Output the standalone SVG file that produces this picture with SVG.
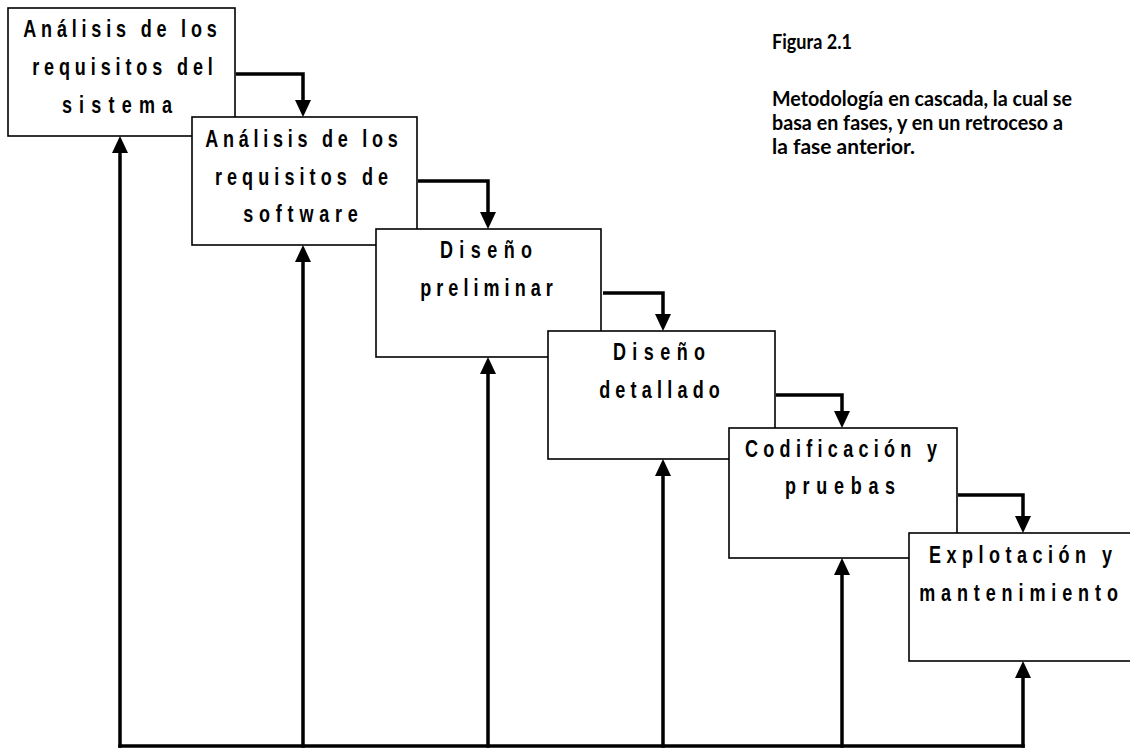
<svg xmlns="http://www.w3.org/2000/svg" width="1130" height="749" viewBox="0 0 1130 749">
  <style>
    .box { fill: #ffffff; stroke: #000000; stroke-width: 1.6; }
    .lbl { font-family: "Liberation Sans", Arial, sans-serif; font-weight: bold; font-size: 24px; text-anchor: middle; fill: #000000; }
    .cap { font-family: Lato, "Liberation Sans", sans-serif; font-weight: bold; font-size: 20px; fill: #000000; }
    .flow { fill: none; stroke: #000000; stroke-width: 3.5; stroke-linejoin: miter; stroke-linecap: square; }
    .step { stroke-linecap: butt; }
    .head { fill: #000000; stroke: none; }
  </style>
  <defs>
    <!-- arrowheads: tip at the origin -->
    <polygon id="down" class="head" points="-8,-17 8,-17 0,0"/>
    <polygon id="up" class="head" points="-8,17 8,17 0,0"/>
  </defs>
  <rect width="1130" height="749" fill="#ffffff"/>

  <!-- return lines and arrows, drawn under the boxes -->
  <g id="connectors">
    <!-- feedback bus along the bottom -->
    <path class="flow" d="M120,746 H1023"/>
    <path class="flow" d="M120,746 V152"/>
    <path class="flow" d="M303,746 V261"/>
    <path class="flow" d="M488,746 V373"/>
    <path class="flow" d="M663,746 V475"/>
    <path class="flow" d="M842,746 V574"/>
    <path class="flow" d="M1023,746 V677"/>
    <use href="#up" x="120" y="136"/>
    <use href="#up" x="303" y="245"/>
    <use href="#up" x="488" y="357"/>
    <use href="#up" x="663" y="459"/>
    <use href="#up" x="842" y="558"/>
    <use href="#up" x="1023" y="661"/>
    <!-- forward steps between phases -->
    <path class="flow step" d="M236,74 H303 V101"/>
    <path class="flow step" d="M418,181 H488 V213"/>
    <path class="flow step" d="M603,293 H663 V315"/>
    <path class="flow step" d="M776,395 H842 V412"/>
    <path class="flow step" d="M958,495 H1023 V517"/>
    <use href="#down" x="303" y="117"/>
    <use href="#down" x="488" y="229"/>
    <use href="#down" x="663" y="331"/>
    <use href="#down" x="842" y="428"/>
    <use href="#down" x="1023" y="533"/>
  </g>

  <!-- phase labels are set in a narrowed bold face with wide tracking -->
  <g id="fase1">
    <rect class="box" x="8" y="8" width="227" height="128"/>
    <text class="lbl" transform="translate(120 37) scale(0.75 1)" textLength="258" lengthAdjust="spacing">Análisis de los</text>
    <text class="lbl" transform="translate(122.5 75) scale(0.75 1)" textLength="241" lengthAdjust="spacing">requisitos del</text>
    <text class="lbl" transform="translate(117 113) scale(0.75 1)" textLength="147" lengthAdjust="spacing">sistema</text>
  </g>
  <g id="fase2">
    <rect class="box" x="192" y="117" width="225" height="128"/>
    <text class="lbl" transform="translate(301.5 147) scale(0.75 1)" textLength="257" lengthAdjust="spacing">Análisis de los</text>
    <text class="lbl" transform="translate(301.5 185) scale(0.75 1)" textLength="231" lengthAdjust="spacing">requisitos de</text>
    <text class="lbl" transform="translate(300.5 222) scale(0.75 1)" textLength="153" lengthAdjust="spacing">software</text>
  </g>
  <g id="fase3">
    <rect class="box" x="376" y="229" width="225" height="128"/>
    <text class="lbl" transform="translate(486 258) scale(0.75 1)" textLength="123" lengthAdjust="spacing">Diseño</text>
    <text class="lbl" transform="translate(486.5 296) scale(0.75 1)" textLength="177" lengthAdjust="spacing">preliminar</text>
  </g>
  <g id="fase4">
    <rect class="box" x="548" y="331" width="227" height="128"/>
    <text class="lbl" transform="translate(659 360) scale(0.75 1)" textLength="123" lengthAdjust="spacing">Diseño</text>
    <text class="lbl" transform="translate(659.5 398) scale(0.75 1)" textLength="161" lengthAdjust="spacing">detallado</text>
  </g>
  <g id="fase5">
    <rect class="box" x="729" y="428" width="228" height="130"/>
    <text class="lbl" transform="translate(841 457) scale(0.75 1)" textLength="256" lengthAdjust="spacing">Codificación y</text>
    <text class="lbl" transform="translate(840 494) scale(0.75 1)" textLength="147" lengthAdjust="spacing">pruebas</text>
  </g>
  <g id="fase6">
    <rect class="box" x="909" y="533" width="230" height="128"/>
    <text class="lbl" transform="translate(1020.5 563) scale(0.75 1)" textLength="244" lengthAdjust="spacing">Explotación y</text>
    <text class="lbl" transform="translate(1018.5 601) scale(0.75 1)" textLength="265" lengthAdjust="spacing">mantenimiento</text>
  </g>

  <g id="caption">
    <text class="cap" x="772" y="49" textLength="80" lengthAdjust="spacingAndGlyphs">Figura 2.1</text>
    <text class="cap" x="772" y="106" textLength="300" lengthAdjust="spacingAndGlyphs">Metodología en cascada, la cual se</text>
    <text class="cap" x="772" y="130" textLength="291" lengthAdjust="spacingAndGlyphs">basa en fases, y en un retroceso a</text>
    <text class="cap" x="772" y="154" textLength="143" lengthAdjust="spacingAndGlyphs">la fase anterior.</text>
  </g>
</svg>
